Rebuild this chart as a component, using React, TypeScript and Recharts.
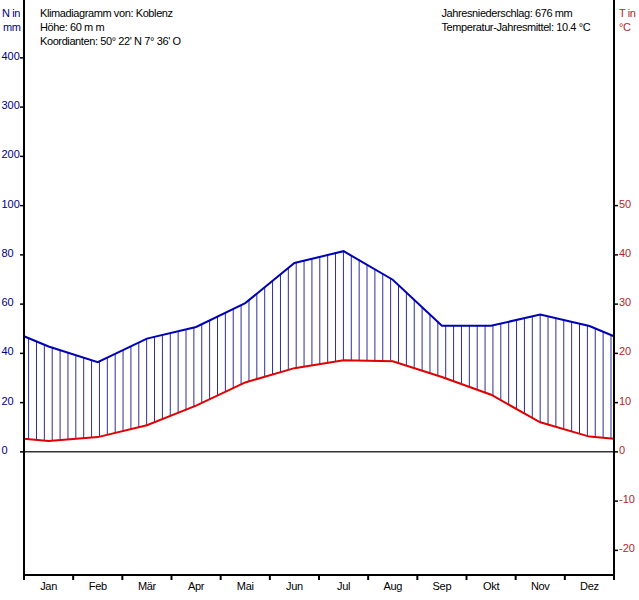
import React from 'react';
import { ComposedChart, Line, Area, XAxis, YAxis, ReferenceLine } from 'recharts';

const months = ['Jan', 'Feb', 'Mär', 'Apr', 'Mai', 'Jun', 'Jul', 'Aug', 'Sep', 'Okt', 'Nov', 'Dez'];
const precipitation = [42.8, 36.4, 46.0, 50.7, 60.4, 76.7, 81.5, 69.9, 51.2, 51.2, 55.8, 51.1];
const temperature = [2.2, 3.0, 5.4, 9.4, 14.1, 17.0, 18.6, 18.4, 15.2, 11.6, 6.0, 3.1];
const precipTicks = [0, 20, 40, 60, 80, 100, 200, 300, 400];
const tempTicks = [-20, -10, 0, 10, 20, 30, 40, 50];
const headerLeft = ['Klimadiagramm von: Koblenz', 'Höhe: 60 m m', "Koordianten: 50° 22' N 7° 36' O"];
const headerRight = ['Jahresniederschlag: 676 mm', 'Temperatur-Jahresmittel: 10.4 °C'];

const scaleP = (p: number) => (p <= 100 ? p : 100 + (p - 100) / 5);
const scaleT = (t: number) => t * 2;
const unscaleP = (v: number) => (v <= 100 ? v : 100 + (v - 100) * 5);

const edgeP = (precipitation[11] + precipitation[0]) / 2;
const edgeT = (temperature[11] + temperature[0]) / 2;

const data = [
  { x: 0, p: scaleP(edgeP), t: scaleT(edgeT) },
  ...months.map((_, i) => ({ x: i + 0.5, p: scaleP(precipitation[i]), t: scaleT(temperature[i]) })),
  { x: 12, p: scaleP(edgeP), t: scaleT(edgeT) },
];

const FONT = '"Liberation Sans", Arial, sans-serif';
const NAVY = '#000080';
const DRED = '#b02828';

const LeftTick = (props: any) => {
  const { y, payload } = props;
  return (
    <text x={1.5} y={y} dy={2} fontSize={11} fontFamily={FONT} fill={NAVY} textAnchor="start">
      {Math.round(unscaleP(payload.value))}
    </text>
  );
};

const RightTick = (props: any) => {
  const { y, payload } = props;
  return (
    <text x={619} y={y} dy={2} fontSize={11} fontFamily={FONT} fill={DRED} textAnchor="start">
      {Math.round(payload.value / 2)}
    </text>
  );
};

const MonthTick = (props: any) => {
  const { x, y, payload } = props;
  return (
    <text x={x} y={y} dy={9} fontSize={11} fontFamily={FONT} fill="#000" textAnchor="middle" letterSpacing={-0.3}>
      {months[Math.floor(payload.value)]}
    </text>
  );
};

const EmptyTick = () => <g />;

export default function App() {
  return (
    <div style={{ position: 'absolute', left: 0, top: 0, width: 639, height: 600, background: '#fff' }}>
      <ComposedChart width={639} height={600} data={data} margin={{ top: 0, right: 0, bottom: 0, left: 0 }}>
        <defs>
          <pattern id="hatch" patternUnits="userSpaceOnUse" width={7.87} height={10} x={4.5} y={0}>
            <line x1={0.5} y1={0} x2={0.5} y2={10} stroke="#2a2a96" strokeWidth={1} shapeRendering="crispEdges" />
          </pattern>
        </defs>
        <XAxis
          xAxisId="a"
          dataKey="x"
          type="number"
          domain={[0, 12]}
          ticks={[0, 1, 2, 3, 4, 5, 6, 7, 8, 9, 10, 11, 12]}
          interval={0}
          height={1}
          tick={<EmptyTick />}
          tickSize={5}
          axisLine={{ stroke: '#000', strokeWidth: 2 }}
          tickLine={{ stroke: '#000', strokeWidth: 2 }}
        />
        <XAxis
          xAxisId="b"
          dataKey="x"
          type="number"
          domain={[0, 12]}
          ticks={[0.5, 1.5, 2.5, 3.5, 4.5, 5.5, 6.5, 7.5, 8.5, 9.5, 10.5, 11.5]}
          interval={0}
          height={24}
          axisLine={false}
          tickLine={false}
          tickSize={4}
          tickMargin={1}
          tick={<MonthTick />}
        />
        <YAxis
          yAxisId="l"
          type="number"
          domain={[-50, 183.5]}
          allowDataOverflow
          ticks={precipTicks.map(scaleP)}
          interval={0}
          width={24}
          tickSize={4}
          axisLine={{ stroke: '#000', strokeWidth: 2 }}
          tickLine={{ stroke: '#000', strokeWidth: 1.5 }}
          tick={<LeftTick />}
        />
        <YAxis
          yAxisId="r"
          orientation="right"
          type="number"
          domain={[-50, 183.5]}
          allowDataOverflow
          ticks={tempTicks.map(scaleT)}
          interval={0}
          width={25}
          tickSize={4}
          axisLine={{ stroke: '#000', strokeWidth: 2 }}
          tickLine={{ stroke: '#000', strokeWidth: 1.5 }}
          tick={<RightTick />}
        />
        <ReferenceLine yAxisId="l" xAxisId="a" y={0} stroke="#333" strokeWidth={1.5} />
        <Area
          xAxisId="a"
          yAxisId="l"
          type="linear"
          dataKey={(d: any) => [d.t, d.p]}
          fill="url(#hatch)"
          fillOpacity={1}
          stroke="none"
          isAnimationActive={false}
          dot={false}
          activeDot={false}
        />
        <Line xAxisId="a" yAxisId="l" type="linear" dataKey="t" stroke="#e00000" strokeWidth={2} dot={false} activeDot={false} isAnimationActive={false} />
        <Line xAxisId="a" yAxisId="l" type="linear" dataKey="p" stroke="#0000b4" strokeWidth={2} dot={false} activeDot={false} isAnimationActive={false} />
      </ComposedChart>
      <svg width={639} height={60} style={{ position: 'absolute', left: 0, top: 0, pointerEvents: 'none' }}>
        <g fontFamily={FONT} fontSize={11} letterSpacing={-0.4}>
          {headerLeft.map((s, i) => (
            <text key={s} x={40} y={16.5 + i * 14.3} fill="#000">{s}</text>
          ))}
          {headerRight.map((s, i) => (
            <text key={s} x={441.5} y={16.5 + i * 14.3} fill="#000">{s}</text>
          ))}
          <text x={2} y={16.5} fill={NAVY}>N in</text>
          <text x={3} y={30.5} fill={NAVY}>mm</text>
          <text x={619} y={16.5} fill={DRED}>T in</text>
          <text x={619} y={30.5} fill={DRED}>°C</text>
        </g>
      </svg>
    </div>
  );
}
